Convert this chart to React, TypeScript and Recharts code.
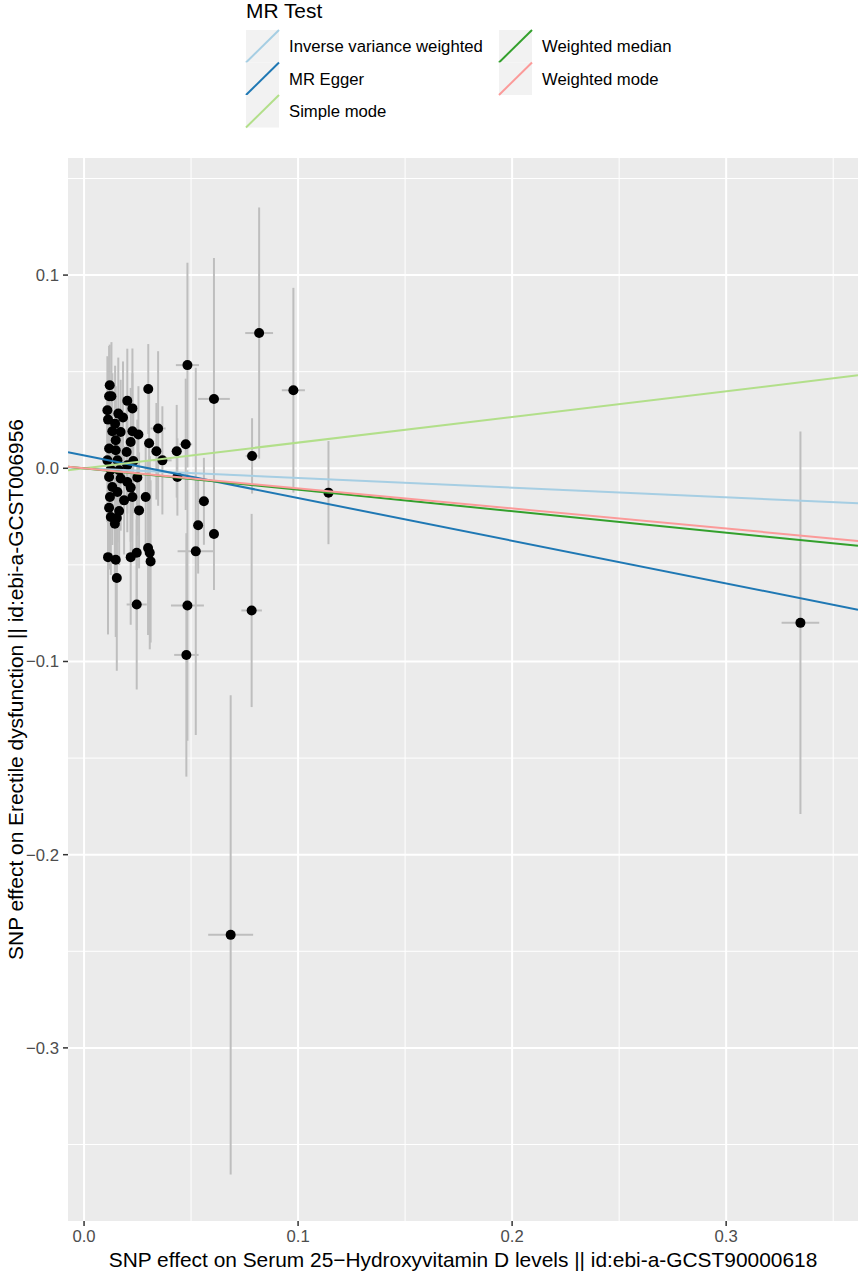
import { ScatterChart, Scatter, XAxis, YAxis, CartesianGrid, ErrorBar } from 'recharts';

// SNP effects (exposure = x, outcome = y)
const snpBetaExposure = [
  0.0818, 0.0978, 0.0607, 0.0785, 0.1142, 0.056, 0.0533, 0.0607, 0.0522, 0.0783,
  0.0685, 0.3347, 0.0483, 0.0475, 0.0483, 0.0478, 0.0433, 0.0436, 0.03, 0.0346,
  0.0304, 0.0338, 0.0366, 0.0288, 0.0299, 0.0307, 0.0311, 0.0246, 0.0246, 0.0218,
  0.0148, 0.0112, 0.0153, 0.0144, 0.0153, 0.0125, 0.0257, 0.0164, 0.0117, 0.0226,
  0.0187, 0.0121, 0.0156, 0.0218, 0.0132, 0.0202, 0.0249, 0.0171, 0.0117, 0.0202,
  0.0164, 0.0125, 0.023, 0.0156, 0.0109, 0.0199, 0.0148, 0.0117, 0.0218, 0.0148,
  0.0254, 0.0226, 0.0171, 0.0132, 0.0145, 0.0112, 0.0182, 0.016, 0.0109, 0.0226,
  0.0202, 0.0128, 0.0117, 0.012,
];
const snpBetaOutcome = [
  0.07, 0.0404, 0.0359, 0.0064, -0.0126, -0.0171, -0.0295, -0.034, -0.043, -0.0736,
  -0.2415, -0.08, 0.0534, 0.0124, -0.071, -0.0966, 0.0088, -0.0045, 0.041, 0.0206,
  0.013, 0.0088, 0.0041, -0.0149, -0.0413, -0.0437, -0.0482, -0.0705, -0.0437, -0.046,
  -0.0473, -0.046, -0.0568, -0.0287, -0.0257, -0.0252, -0.0218, -0.0221, -0.0204, -0.0149,
  -0.0166, -0.0149, -0.0123, -0.01, -0.0097, -0.0071, -0.0048, -0.0053, -0.0045, 0.0016,
  -0.001, -0.0007, 0.0038, 0.0041, 0.0041, 0.0084, 0.0093, 0.0102, 0.0136, 0.0145,
  0.0175, 0.0192, 0.0188, 0.0192, 0.0231, 0.0252, 0.0263, 0.0283, 0.03, 0.031,
  0.0349, 0.0373, 0.0373, 0.043,
];
const snpSeExposure = [
  0.0065, 0.0054, 0.0074, 0.003, 0.002, 0.002, 0.002, 0.002, 0.0085, 0.0048,
  0.0105, 0.0088, 0.0054, 0.003, 0.0077, 0.0057, 0.0025, 0.0035, 0.0015, 0.0035,
  0.0015, 0.0015, 0.0043, 0.0012, 0.0012, 0.0012, 0.0012, 0.0047, 0.0012, 0.001,
  0.001, 0.001, 0.001, 0.001, 0.001, 0.001, 0.001, 0.001, 0.001, 0.001,
  0.001, 0.001, 0.001, 0.001, 0.001, 0.001, 0.001, 0.001, 0.001, 0.001,
  0.001, 0.001, 0.001, 0.001, 0.001, 0.001, 0.001, 0.001, 0.001, 0.001,
  0.001, 0.001, 0.001, 0.001, 0.001, 0.001, 0.001, 0.001, 0.001, 0.001,
  0.001, 0.001, 0.001, 0.001,
];
const snpSeOutcome = [
  0.065, 0.053, 0.073, 0.0195, 0.0267, 0.0225, 0.025, 0.029, 0.095, 0.05,
  0.124, 0.099, 0.053, 0.034, 0.07, 0.063, 0.024, 0.02, 0.0233, 0.04,
  0.03, 0.025, 0.028, 0.03, 0.045, 0.05, 0.042, 0.044, 0.04, 0.035,
  0.04, 0.04, 0.048, 0.03, 0.028, 0.03, 0.03, 0.028, 0.032, 0.03,
  0.028, 0.03, 0.026, 0.028, 0.03, 0.026, 0.03, 0.027, 0.03, 0.025,
  0.026, 0.03, 0.027, 0.025, 0.032, 0.026, 0.027, 0.03, 0.028, 0.028,
  0.025, 0.03, 0.027, 0.03, 0.03, 0.032, 0.029, 0.029, 0.028, 0.031,
  0.027, 0.028, 0.026, 0.021,
];

// MR estimates drawn as ablines
const methodNames = ['Inverse variance weighted', 'MR Egger', 'Simple mode', 'Weighted median', 'Weighted mode'];
const methodColours = ['#a6cee3', '#1f78b4', '#b2df8a', '#33a02c', '#fb9a99'];
const methodIntercepts = [0, 0.0067, 0, 0, 0];
const methodSlopes = [-0.05, -0.221, 0.133, -0.111, -0.104];

const xTicks = [0, 0.1, 0.2, 0.3];
const yTicks = [-0.3, -0.2, -0.1, 0, 0.1];
const xMinor = [0.05, 0.15, 0.25, 0.35];
const yMinor = [-0.35, -0.25, -0.15, -0.05, 0.05, 0.15];
const xDomain = [-0.0075, 0.3616];
const yDomain = [-0.3896, 0.1606];

const points = snpBetaExposure.map((x, i) => ({
  x,
  y: snpBetaOutcome[i],
  ex: snpSeExposure[i],
  ey: snpSeOutcome[i],
}));

const methodLines = methodNames.map((name, i) => ({
  name,
  colour: methodColours[i],
  data: xDomain.map((x) => ({ x, y: methodIntercepts[i] + methodSlopes[i] * x })),
}));

const fmt = (v: number) => (v < 0 ? '\u2212' + Math.abs(v).toFixed(1) : v.toFixed(1));

const Dot = (props: any) => <circle cx={props.cx} cy={props.cy} r={5} fill="#000" />;
const NoDot = () => <g />;

const XTitle = (props: any) => {
  const vb = props.viewBox || {};
  return (
    <text x={vb.x + vb.width / 2} y={1267} textAnchor="middle" fontSize={20.9} fill="#000">
      SNP effect on Serum 25{'\u2212'}Hydroxyvitamin D levels || id:ebi-a-GCST90000618
    </text>
  );
};

const YTitle = (props: any) => {
  const vb = props.viewBox || {};
  const cy = vb.y + vb.height / 2;
  return (
    <text x={15} y={cy} transform={`rotate(-90, 15, ${cy})`} textAnchor="middle" dominantBaseline="central" fontSize={20.9} fill="#000">
      SNP effect on Erectile dysfunction || id:ebi-a-GCST006956
    </text>
  );
};

function MethodLegend() {
  return (
    <svg width={858} height={140} style={{ position: 'absolute', left: 0, top: 0 }}>
      <text x={246} y={17.5} fontSize={20.9} fill="#000">MR Test</text>
      {methodNames.map((name, i) => {
        const col = i < 3 ? 0 : 1;
        const row = i < 3 ? i : i - 3;
        const kx = 246 + col * 253;
        const ky = 30 + row * 32.5;
        return (
          <g key={name}>
            <rect x={kx} y={ky} width={33} height={32.5} fill="#f2f2f2" />
            <line x1={kx} y1={ky + 32.5} x2={kx + 33} y2={ky} stroke={methodColours[i]} strokeWidth={2} />
            <text x={kx + 43} y={ky + 16.5} dominantBaseline="central" fontSize={16.7} fill="#000">
              {name}
            </text>
          </g>
        );
      })}
    </svg>
  );
}

export default function App() {
  return (
    <div style={{ position: 'absolute', left: 0, top: 0, width: 858, height: 1272, background: '#fff', fontFamily: '"Liberation Sans", Arial, sans-serif' }}>
      <ScatterChart width={858} height={1272} margin={{ top: 158, right: 0, bottom: 0, left: 0 }}>
        <CartesianGrid fill="#ebebeb" stroke="#ffffff" strokeWidth={1} horizontalValues={yMinor} verticalValues={xMinor} />
        <CartesianGrid stroke="#ffffff" strokeWidth={2} horizontalValues={yTicks} verticalValues={xTicks} />
        <XAxis
          type="number"
          dataKey="x"
          domain={xDomain}
          ticks={xTicks}
          allowDataOverflow
          height={51}
          tickSize={5}
          tickMargin={4}
          axisLine={false}
          tickLine={{ stroke: '#333333', strokeWidth: 1.5 }}
          tick={{ fill: '#4d4d4d', fontSize: 16.7 }}
          tickFormatter={fmt}
          label={(p: any) => <XTitle {...p} />}
        />
        <YAxis
          type="number"
          dataKey="y"
          domain={yDomain}
          ticks={yTicks}
          allowDataOverflow
          width={68}
          tickSize={5}
          tickMargin={4}
          axisLine={false}
          tickLine={{ stroke: '#333333', strokeWidth: 1.5 }}
          tick={{ fill: '#4d4d4d', fontSize: 16.7 }}
          tickFormatter={fmt}
          label={(p: any) => <YTitle {...p} />}
        />
        <Scatter data={points} shape={Dot} isAnimationActive={false}>
          <ErrorBar dataKey="ey" direction="y" width={0} stroke="#bebebe" strokeWidth={2} isAnimationActive={false} />
          <ErrorBar dataKey="ex" direction="x" width={0} stroke="#bebebe" strokeWidth={2} isAnimationActive={false} />
        </Scatter>
        {methodLines.map((m) => (
          <Scatter
            key={m.name}
            name={m.name}
            data={m.data}
            shape={NoDot}
            line={{ stroke: m.colour, strokeWidth: 2 }}
            isAnimationActive={false}
          />
        ))}
      </ScatterChart>
      <MethodLegend />
    </div>
  );
}
